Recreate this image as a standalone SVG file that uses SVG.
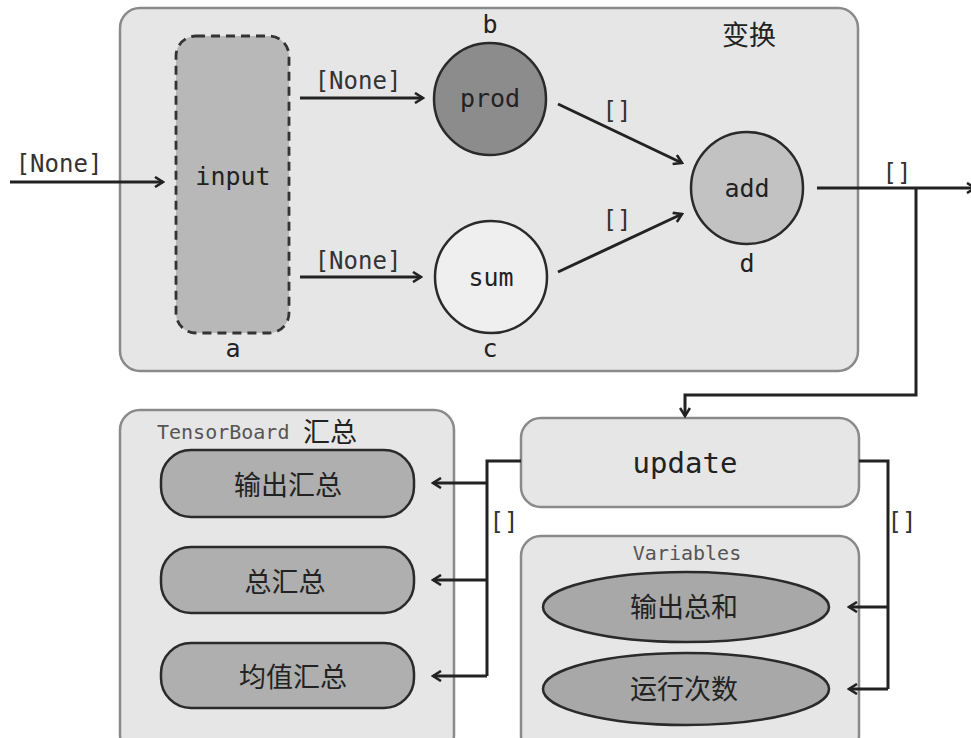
<svg xmlns="http://www.w3.org/2000/svg" width="971" height="738" viewBox="0 0 971 738">
  <style>
    .group { fill: #e6e6e6; stroke: #8a8a8a; stroke-width: 2.5; }
    .node { stroke: #2a2a2a; stroke-width: 2.5; }
    .mono { font-family: "DejaVu Sans Mono", "Liberation Mono", monospace; fill: #222; }
    .cjk { font-family: "Noto Sans CJK SC", sans-serif; fill: #222; }
    .edge { fill: none; stroke: #222; stroke-width: 3; }
    .lbl { font-family: "DejaVu Sans Mono", "Liberation Mono", monospace; font-size: 24px; fill: #333; text-anchor: middle; }
    .name { font-size: 25px; text-anchor: middle; }
    .title { font-size: 20px; fill: #555; }
  </style>
  <defs>
    <marker id="arrow" viewBox="0 0 12 12" refX="10" refY="6" markerWidth="12" markerHeight="12" markerUnits="userSpaceOnUse" orient="auto">
      <path d="M2,1 L10,6 L2,11" fill="none" stroke="#222" stroke-width="2.6"/>
    </marker>
  </defs>
  <rect width="971" height="738" fill="#ffffff"/>

  <!-- top subgraph -->
  <g id="transform-group">
    <rect class="group" x="120" y="8" width="738" height="363" rx="20"/>
    <text class="cjk" x="749" y="45" font-size="27" text-anchor="middle">变换</text>
  </g>

  <g id="node-input">
    <rect x="176" y="36" width="113" height="297" rx="20" fill="#b8b8b8" stroke="#333" stroke-width="2.8" stroke-dasharray="9,6"/>
    <text class="mono name" x="233" y="185">input</text>
    <text class="mono name" x="233" y="357">a</text>
  </g>

  <g id="node-prod">
    <circle class="node" cx="490" cy="99" r="56" fill="#8c8c8c"/>
    <text class="mono name" x="490" y="107">prod</text>
    <text class="mono name" x="490" y="33">b</text>
  </g>

  <g id="node-sum">
    <circle class="node" cx="491" cy="277" r="56" fill="#efefef"/>
    <text class="mono name" x="491" y="286">sum</text>
    <text class="mono name" x="490" y="357">c</text>
  </g>

  <g id="node-add">
    <circle class="node" cx="747" cy="188" r="56" fill="#c2c2c2"/>
    <text class="mono name" x="747" y="197">add</text>
    <text class="mono name" x="747" y="272">d</text>
  </g>

  <!-- bottom left subgraph -->
  <g id="summary-group">
    <rect class="group" x="120" y="410" width="334" height="345" rx="20"/>
    <text class="mono title" x="157" y="439" style="fill:#555">TensorBoard</text>
    <text class="cjk" x="303" y="442" font-size="27">汇总</text>
  </g>

  <g id="node-output-summary">
    <rect class="node" x="161" y="450" width="253" height="67" rx="30" fill="#afafaf"/>
    <text class="cjk" x="288" y="495" font-size="27" text-anchor="middle">输出汇总</text>
  </g>
  <g id="node-total-summary">
    <rect class="node" x="161" y="547" width="253" height="66" rx="30" fill="#afafaf"/>
    <text class="cjk" x="285" y="592" font-size="27" text-anchor="middle">总汇总</text>
  </g>
  <g id="node-mean-summary">
    <rect class="node" x="161" y="643" width="253" height="65" rx="30" fill="#afafaf"/>
    <text class="cjk" x="293" y="687" font-size="27" text-anchor="middle">均值汇总</text>
  </g>

  <!-- update node -->
  <g id="node-update">
    <rect class="group" x="521" y="418" width="338" height="89" rx="20"/>
    <text class="mono" x="685" y="473" font-size="29" text-anchor="middle">update</text>
  </g>

  <!-- variables subgraph -->
  <g id="variables-group">
    <rect class="group" x="521" y="536" width="338" height="220" rx="20"/>
    <text class="mono title" x="687" y="560" text-anchor="middle" style="fill:#555">Variables</text>
  </g>
  <g id="node-output-total">
    <ellipse class="node" cx="686" cy="607" rx="143" ry="35" fill="#a8a8a8"/>
    <text class="cjk" x="684" y="617" font-size="27" text-anchor="middle">输出总和</text>
  </g>
  <g id="node-run-count">
    <ellipse class="node" cx="686" cy="689" rx="143" ry="36" fill="#a8a8a8"/>
    <text class="cjk" x="684" y="699" font-size="27" text-anchor="middle">运行次数</text>
  </g>

  <!-- connectors -->
  <g id="connectors">
    <line class="edge" x1="10" y1="182" x2="163" y2="182" marker-end="url(#arrow)"/>
    <text class="lbl" x="59" y="172">[None]</text>

    <line class="edge" x1="300" y1="98" x2="423" y2="98" marker-end="url(#arrow)"/>
    <text class="lbl" x="358" y="89">[None]</text>

    <line class="edge" x1="300" y1="277" x2="421" y2="277" marker-end="url(#arrow)"/>
    <text class="lbl" x="358" y="269">[None]</text>

    <line class="edge" x1="558" y1="104" x2="682" y2="163" marker-end="url(#arrow)"/>
    <text class="lbl" x="617" y="119">[]</text>

    <line class="edge" x1="558" y1="272" x2="682" y2="214" marker-end="url(#arrow)"/>
    <text class="lbl" x="617" y="228">[]</text>

    <line class="edge" x1="817" y1="188" x2="975" y2="188" marker-end="url(#arrow)"/>
    <text class="lbl" x="897" y="181">[]</text>

    <polyline class="edge" points="916,188 916,395 685,395 685,416" marker-end="url(#arrow)"/>

    <!-- update to summaries -->
    <polyline class="edge" points="521,461 487,461 487,676"/>
    <line class="edge" x1="487" y1="483" x2="433" y2="483" marker-end="url(#arrow)"/>
    <line class="edge" x1="487" y1="580" x2="433" y2="580" marker-end="url(#arrow)"/>
    <line class="edge" x1="487" y1="676" x2="433" y2="676" marker-end="url(#arrow)"/>
    <text class="lbl" x="504" y="530">[]</text>

    <!-- update to variables -->
    <polyline class="edge" points="859,461 888,461 888,689"/>
    <line class="edge" x1="888" y1="607" x2="849" y2="607" marker-end="url(#arrow)"/>
    <line class="edge" x1="888" y1="689" x2="849" y2="689" marker-end="url(#arrow)"/>
    <text class="lbl" x="902" y="530">[]</text>
  </g>
</svg>
